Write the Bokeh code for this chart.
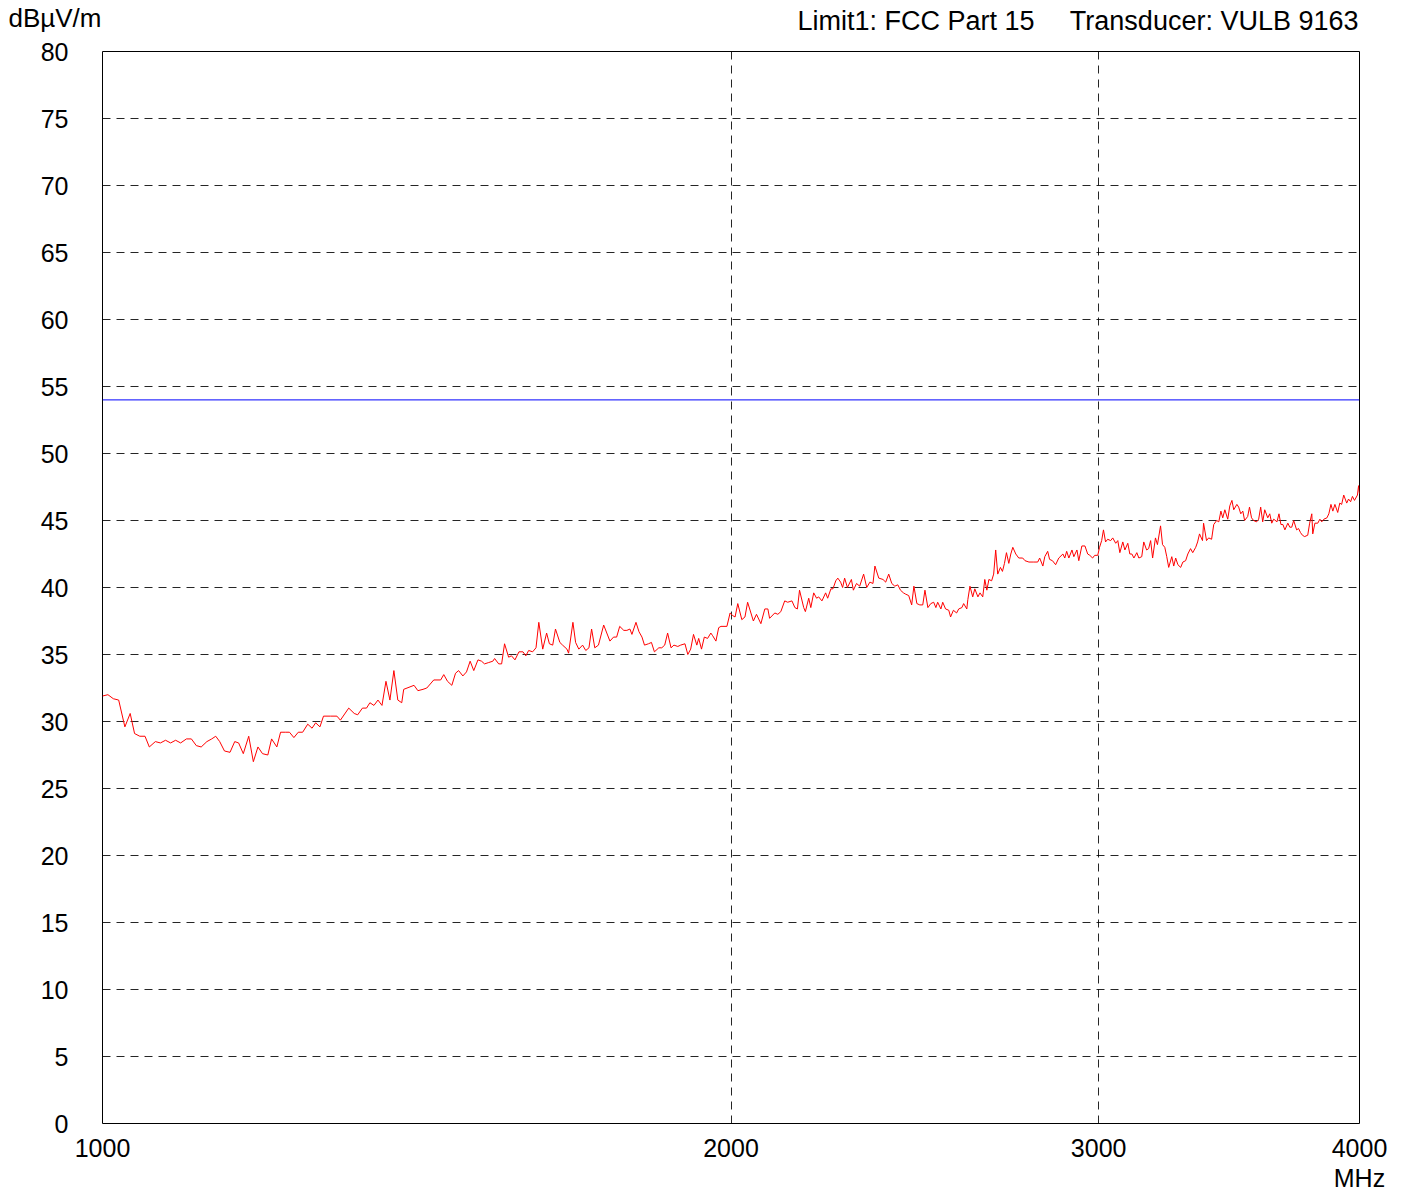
from bokeh.plotting import figure
from bokeh.models import FixedTicker, ColumnDataSource
from bokeh.layouts import column
from bokeh.core.properties import value
from bokeh.embed import file_html
from bokeh.resources import INLINE

# ---------------- data ----------------
freq_mhz = [
    1000, 1006, 1012, 1018, 1025, 1031, 1036, 1042, 1048, 1053,
    1060, 1066, 1072, 1078, 1084, 1090, 1097, 1103, 1109, 1115,
    1122, 1128, 1133, 1138, 1144, 1151, 1157, 1162, 1168, 1175,
    1181, 1187, 1193, 1200, 1205, 1212, 1217, 1224, 1229, 1235,
    1241, 1247, 1254, 1260, 1265, 1271, 1276, 1286, 1295, 1300,
    1312, 1320, 1325, 1332, 1338, 1343, 1349, 1355, 1361, 1367,
    1373, 1379, 1385, 1391,
    1394, 1410, 1416, 1424, 1430, 1441, 1452, 1457, 1463, 1470,
    1476, 1481, 1488, 1494, 1500, 1506, 1513, 1519, 1524, 1531,
    1538, 1541, 1548, 1553, 1558, 1565, 1570, 1576, 1583, 1590,
    1595, 1600, 1607, 1613, 1618, 1625, 1632, 1637, 1643, 1648,
    1656, 1661, 1669, 1672, 1680, 1685, 1691, 1698, 1704, 1710,
    1715, 1721, 1728, 1738, 1750, 1757, 1763, 1769, 1777, 1783,
    1789, 1793, 1801, 1807, 1813, 1818, 1826, 1832, 1838, 1847,
    1853, 1859, 1865, 1872, 1878, 1886, 1892, 1901, 1907, 1913,
    1919, 1926, 1930, 1936, 1942, 1949, 1956, 1960, 1967, 1973,
    1978, 1991, 1998, 2004, 2009, 2015, 2024, 2031, 2037, 2050,
    2057, 2067, 2076, 2083, 2087, 2099, 2106, 2113, 2122, 2129,
    2139, 2146, 2152, 2157, 2167, 2171, 2179, 2184, 2191, 2198,
    2203, 2211, 2220, 2225, 2233, 2238, 2245, 2250, 2257, 2262,
    2267, 2274, 2284, 2289, 2297, 2305, 2315, 2323, 2331, 2339,
    2344, 2354, 2365, 2372, 2380, 2388, 2396, 2404, 2411, 2419,
    2425, 2433, 2441, 2447, 2455, 2463, 2471, 2477, 2485, 2493,
    2501, 2507, 2512, 2521, 2526, 2534, 2543, 2548, 2556, 2565,
    2571, 2580, 2585, 2594,
    2597, 2603, 2611, 2617, 2626, 2632, 2640, 2646, 2652, 2658,
    2666, 2672, 2678, 2684, 2692, 2698, 2704, 2710, 2717, 2723,
    2729, 2738, 2747, 2759, 2766, 2778, 2793, 2805, 2811, 2821,
    2827, 2836, 2842, 2851, 2861, 2871, 2884, 2890, 2896, 2903,
    2913, 2919, 2929, 2935, 2945, 2955, 2964, 2971, 2980, 2987,
    2997, 3003, 3010, 3016, 3023, 3030, 3040, 3047, 3057, 3064,
    3071, 3081, 3088, 3098, 3105, 3112, 3119, 3129, 3136, 3146,
    3153, 3163, 3170, 3177, 3184, 3194, 3201, 3212, 3219, 3227,
    3234, 3241, 3252, 3259, 3266, 3274, 3284, 3292, 3302, 3310,
    3320, 3328, 3339, 3346, 3353, 3364, 3368, 3379, 3387, 3398,
    3406, 3417, 3425, 3433, 3440, 3448, 3459, 3467, 3475, 3482,
    3494, 3501, 3509, 3517, 3524, 3536, 3543, 3551, 3559, 3571,
    3579, 3587, 3595, 3603, 3615, 3623, 3631, 3639, 3652, 3660,
    3668, 3676, 3684, 3696, 3704, 3712, 3720, 3732, 3740, 3748,
    3756, 3765, 3778, 3786, 3795, 3799, 3808, 3820, 3829, 3837,
    3846, 3859, 3867, 3876, 3884, 3893, 3905, 3914, 3922, 3931,
    3944, 3952, 3961, 3969, 3978, 3991, 3996, 4000,
]

level_dbuv = [
    31.9, 32.0, 31.7, 31.6, 29.6, 30.6, 29.1, 28.9, 28.9, 28.1,
    28.5, 28.4, 28.6, 28.4, 28.6, 28.4, 28.7, 28.7, 28.2, 28.1,
    28.5, 28.7, 28.9, 28.5, 27.8, 27.7, 28.5, 28.4, 27.6, 28.9,
    27.0, 28.1, 27.6, 27.5, 28.7, 28.1, 29.2, 29.2, 29.2, 28.8,
    29.2, 29.2, 29.8, 29.5, 29.9, 29.6, 30.4, 30.4, 30.4, 30.1,
    31.0, 30.6, 30.5, 31.0, 31.0, 31.4, 31.2, 31.6, 31.2, 33.0,
    31.6, 33.8, 31.6, 31.4,
    32.4, 32.7, 32.3, 32.4, 32.5, 33.1, 33.1, 33.5, 33.0, 32.7,
    33.6, 33.8, 33.4, 33.7, 34.5, 33.8, 34.6, 34.5, 34.3, 34.4,
    34.5, 34.7, 34.3, 34.3, 35.8, 34.8, 34.9, 34.6, 35.2, 35.2,
    34.9, 35.3, 35.2, 35.5, 37.4, 35.4, 36.6, 35.8, 35.7, 36.9,
    35.9, 35.7, 35.4, 35.1, 37.4, 35.9, 35.4, 35.7, 35.3, 35.5,
    36.9, 35.5, 35.7, 37.2, 36.0, 36.3, 36.3, 37.1, 36.8, 36.8,
    36.9, 36.5, 37.4, 36.7, 36.3, 35.7, 35.8, 35.9, 35.2, 35.5,
    35.5, 35.7, 36.6, 35.5, 35.7, 35.6, 35.7, 35.8, 35.0, 35.4,
    36.5, 35.7, 36.2, 35.4, 36.3, 36.2, 36.6, 36.4, 36.0, 37.0,
    37.1, 37.1, 38.1, 37.9, 37.8, 38.8, 37.6, 37.8, 38.9, 37.5,
    38.0, 37.3, 38.4, 38.4, 37.7, 38.1, 38.0, 38.2, 39.0, 38.9,
    39.0, 38.5, 38.4, 39.8, 38.5, 38.2, 39.2, 38.5, 39.6, 39.2,
    39.3, 39.0, 39.6, 39.2, 39.9, 39.9, 40.5, 40.7, 40.4, 40.0,
    40.7, 40.0, 40.6, 39.8, 40.3, 40.1, 41.0, 40.0, 40.4, 40.3,
    41.6, 40.7, 40.6, 40.4, 41.0, 40.3, 40.1, 40.2, 39.8, 39.6,
    39.5, 39.4, 38.7, 40.1, 38.8, 38.7, 38.7, 39.8, 38.5, 38.8,
    38.9, 38.5, 38.9, 38.4, 38.9, 38.4, 38.3, 37.8, 38.3, 38.1,
    38.4, 38.5, 38.8, 38.4,
    39.1, 40.1, 39.3, 39.9, 39.3, 39.6, 39.3, 40.6, 39.8, 40.6,
    40.5, 41.0, 42.8, 41.0, 41.5, 41.2, 41.8, 42.6, 41.8, 42.5,
    43.0, 42.5, 42.2, 42.2, 42.0, 41.9, 41.9, 41.9, 42.2, 41.6,
    42.3, 42.7, 42.1, 42.0, 41.7, 42.2, 42.5, 42.2, 42.7, 42.2,
    42.8, 42.3, 42.8, 42.0, 43.1, 43.1, 42.5, 42.4, 42.2, 42.4,
    42.4, 43.0, 43.5, 44.3, 43.4, 43.6, 43.5, 43.7, 43.3, 43.5,
    42.6, 43.4, 42.8, 43.3, 42.5, 42.5, 42.2, 42.6, 42.2, 42.3,
    43.4, 42.8, 42.9, 43.5, 42.2, 43.7, 43.2, 44.6, 43.2, 43.0,
    42.3, 41.5, 42.3, 41.6, 42.2, 41.7, 41.5, 41.9, 42.0, 42.5,
    42.9, 42.6, 43.0, 43.4, 44.0, 43.5, 44.8, 43.5, 43.7, 43.6,
    44.7, 45.0, 44.9, 45.7, 45.2, 45.8, 45.1, 46.1, 46.5, 45.8,
    46.2, 46.0, 45.5, 45.7, 45.0, 45.3, 46.0, 45.2, 45.0, 44.9,
    45.1, 46.0, 44.9, 45.8, 45.2, 45.5, 44.8, 45.1, 44.9, 45.5,
    44.7, 44.7, 44.3, 44.8, 44.5, 44.5, 45.0, 44.3, 44.4, 44.1,
    43.9, 43.8, 43.9, 44.8, 45.5, 44.0, 44.8, 44.8, 45.1, 44.9,
    45.1, 45.2, 45.5, 46.2, 45.7, 46.2, 45.6, 46.3, 46.2, 46.9,
    46.3, 46.6, 46.4, 46.8, 46.5, 46.9, 47.6, 47.0,
]

limit_freq = [1000, 4000]
limit_level = [54, 54]

x_ticks = [1000, 2000, 3000, 4000]
x_tick_labels = ["1000", "2000", "3000", "4000\nMHz"]
x_grid = [2000, 3000]
y_ticks = [0, 5, 10, 15, 20, 25, 30, 35, 40, 45, 50, 55, 60, 65, 70, 75, 80]
y_grid = [5, 10, 15, 20, 25, 30, 35, 40, 45, 50, 55, 60, 65, 70, 75]

y_unit = "dBµV/m"
header_limit = "Limit1: FCC Part 15"
header_transducer = "Transducer: VULB 9163"

FONT = "Liberation Sans"
FS = "25px"
W = 1403
FRAME_L, FRAME_R, FRAME_T, FRAME_B = 102, 1359, 51, 1123
HEAD_H = 35

# ---------------- header strip ----------------
# its plotting area is aligned with the chart's frame by the column layout,
# so x data here equals page x.
head = figure(
    width=W, height=HEAD_H, x_range=(FRAME_L, FRAME_R), y_range=(0, HEAD_H),
    x_axis_location=None, y_axis_location="left",
    output_backend="svg", toolbar_location=None,
    min_border_left=FRAME_L, min_border_right=W - FRAME_R,
    min_border_top=0, min_border_bottom=0,
)
head.outline_line_color = None
head.grid.visible = False
head.background_fill_color = "white"
head.border_fill_color = "white"
hy = head.yaxis[0]
hy.ticker = FixedTicker(ticks=[], minor_ticks=[])
hy.axis_line_color = None
hy.major_tick_line_color = None
hy.minor_tick_line_color = None
hy.major_label_text_font_size = "0px"
hy.axis_label = y_unit
hy.axis_label_orientation = "horizontal"
hy.axis_label_standoff = 1
hy.axis_label_text_font = FONT
hy.axis_label_text_font_size = "26px"
hy.axis_label_text_font_style = "normal"
hy.axis_label_text_color = "black"

head.text(x=[797], y=[HEAD_H - 20], text=[header_limit], text_font=value(FONT),
          text_font_size=value("27px"), text_align="left", text_baseline="middle",
          text_color="black")
head.text(x=[1358], y=[HEAD_H - 20], text=[header_transducer], text_font=value(FONT),
          text_font_size=value("27px"), text_align="right", text_baseline="middle",
          text_color="black")

# ---------------- main chart ----------------
MAIN_H = 1195 - HEAD_H
p = figure(
    width=W, height=MAIN_H,
    x_axis_type="log",
    x_range=(1000, 4000), y_range=(0, 80),
    output_backend="svg", toolbar_location=None,
    min_border_left=FRAME_L, min_border_right=W - FRAME_R,
    min_border_top=FRAME_T - HEAD_H,
    min_border_bottom=1195 - FRAME_B,
)
p.background_fill_color = "white"
p.border_fill_color = "white"
p.outline_line_color = "black"
p.outline_line_width = 1

for ax in (p.xaxis, p.yaxis):
    ax.axis_line_color = None
    ax.major_tick_line_color = None
    ax.minor_tick_line_color = None
    ax.major_tick_in = 0
    ax.major_tick_out = 0
    ax.minor_tick_in = 0
    ax.minor_tick_out = 0
    ax.major_label_text_font = FONT
    ax.major_label_text_font_size = FS
    ax.major_label_text_color = "black"
    ax.major_label_text_font_style = "normal"

p.xaxis.ticker = FixedTicker(ticks=x_ticks, minor_ticks=[])
p.xaxis.major_label_overrides = {t: s for t, s in zip(x_ticks, x_tick_labels)}
p.xaxis.major_label_standoff = 10
p.xaxis.major_label_text_line_height = 1.1
p.yaxis.ticker = FixedTicker(ticks=y_ticks, minor_ticks=[])
p.yaxis.major_label_overrides = {t: str(t) for t in y_ticks}
p.yaxis.major_label_standoff = 34

p.xgrid.ticker = FixedTicker(ticks=x_grid, minor_ticks=[])
p.ygrid.ticker = FixedTicker(ticks=y_grid, minor_ticks=[])
for g in (p.xgrid, p.ygrid):
    g.grid_line_color = "black"
    g.grid_line_width = 1
    g.grid_line_dash = "8 6"
    g.grid_line_alpha = 0.85

p.line(limit_freq, limit_level, line_color="#0000ff", line_width=1)

src = ColumnDataSource(dict(f=freq_mhz, v=level_dbuv))
p.line("f", "v", source=src, line_color="#ff0000", line_width=1)

layout = column(head, p, spacing=0)
open("out.html", "w").write(file_html(layout, INLINE))
